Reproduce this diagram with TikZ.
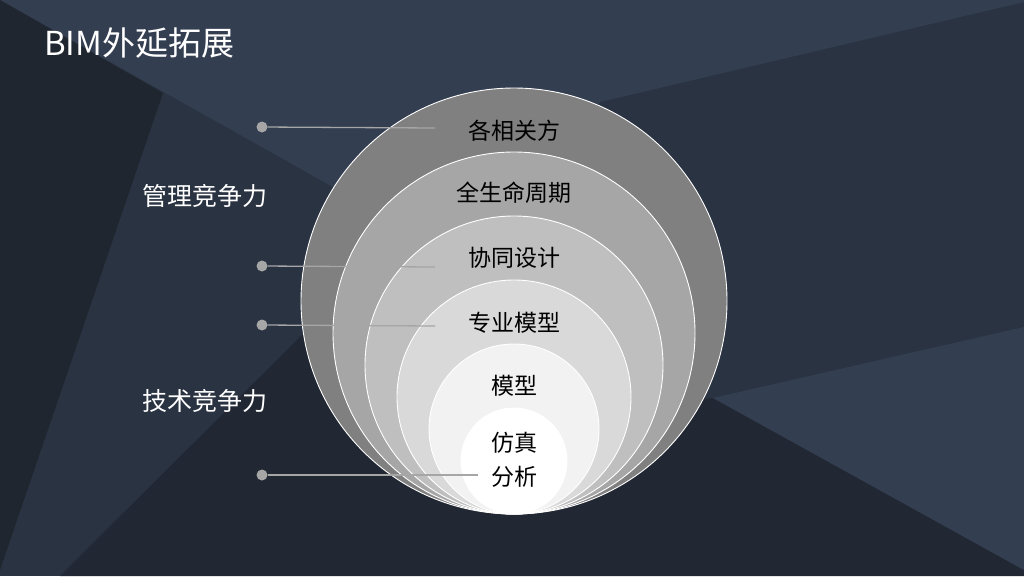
\documentclass[tikz,border=0pt]{standalone}
\usepackage{fontspec}
\setmainfont{Noto Sans CJK SC}
\usepackage{xcolor}
\usetikzlibrary{positioning}

\definecolor{bgmid}{HTML}{2A3342}
\definecolor{bglight}{HTML}{333E51}
\definecolor{bgdark}{HTML}{222833}
\definecolor{bgdeep}{HTML}{20262F}
\definecolor{dotgray}{HTML}{A6A6A6}

\begin{document}
\begin{tikzpicture}[
    x=1pt, y=-1pt,
    ring/.style={draw=white, line width=0.9pt, circle, inner sep=0pt},
    lvl/.style={text=black, inner sep=0pt, font=\fontsize{23}{26}\selectfont},
    side/.style={text=white, inner sep=0pt, font=\fontsize{25}{28}\selectfont},
    dot/.style={circle, fill=dotgray, minimum size=11pt, inner sep=0pt},
    link/.style={draw=dotgray, line width=1.3pt}
]

    % Background
    \useasboundingbox (0,0) rectangle (1024,576);
    \fill [bgmid] (0,0) rectangle (1024,576);
    \fill [bglight] (0,0) -- (1024,0) -- (1024,2) -- (600,102) -- (514,250) -- (333,187) -- cycle;
    \fill [bgdeep] (0,0) -- (163,93) -- (0,570) -- cycle;
    \fill [bgdark] (60,576) -- (330,307) -- (514,420) -- (713,398) -- (1024,570) -- (1024,576) -- cycle;
    \fill [bglight] (713,398) -- (1024,327) -- (1024,570) -- cycle;

    % Title
    \node [anchor=west, text=white, inner sep=0pt, font=\fontsize{33}{36}\selectfont] (title) at (44,43) {BIM外延拓展};

    % Rings
    \node [ring, fill=black!50, minimum size=426pt] (r1) at (514,301) {};
    \node [ring, fill=black!35, minimum size=362pt] (r2) at (514,333) {};
    \node [ring, fill=black!25, minimum size=298pt] (r3) at (514,365) {};
    \node [ring, fill=black!15, minimum size=234pt] (r4) at (514,397) {};
    \node [ring, fill=black!5, minimum size=170pt] (r5) at (514,429) {};
    \node [ring, fill=white, minimum size=106pt] (r6) at (514,461) {};

    % Ring labels
    \node [lvl] (l1) at (514,131) {各相关方};
    \node [lvl] (l2) at (514,193) {全生命周期};
    \node [lvl] (l3) at (514,258) {协同设计};
    \node [lvl] (l4) at (514,323) {专业模型};
    \node [lvl] (l5) at (514,386) {模型};
    \node [lvl] (l6) at (514,443) {仿真};
    \node [lvl] (l7) at (514,477) {分析};

    % Side labels
    \node [side] (mgmt) at (205,196) {管理竞争力};
    \node [side] (tech) at (205,401) {技术竞争力};

    % Leader ends
    \coordinate (e1) at (435,128);
    \coordinate (e2) at (435,267);
    \coordinate (e3) at (435,326);
    \coordinate (e4) at (478,475);

    % Dots
    \node [dot] (d1) at (262,127) {};
    \node [dot] (d2) at (262,266) {};
    \node [dot] (d3) at (262,325) {};
    \node [dot] (d4) at (262,475) {};

    % Leaders
    \draw [link] (d1) -- (e1);
    \draw [link] (d2) -- (e2);
    \draw [link] (d3) -- (e3);
    \draw [link] (d4) -- (e4);

\end{tikzpicture}
\end{document}
